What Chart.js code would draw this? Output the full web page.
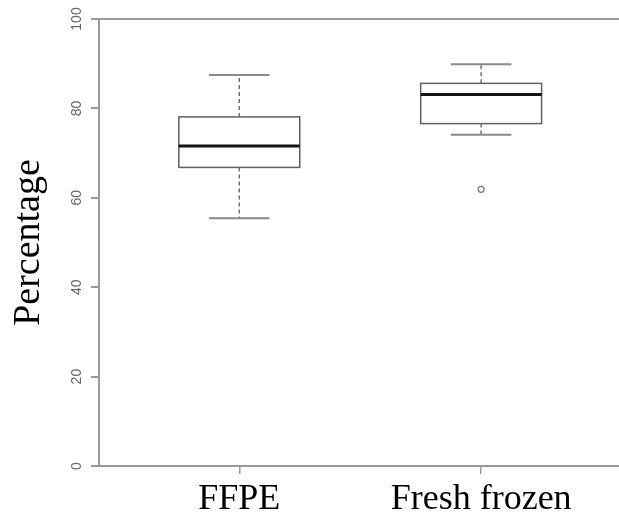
<!DOCTYPE html>
<html>
<head>
<meta charset="utf-8">
<script src="https://cdn.jsdelivr.net/npm/chart.js@4.4.1/dist/chart.umd.min.js"></script>
<style>
    html, body { margin: 0; padding: 0; background: #fff; overflow: hidden; }
    #wrap { width: 619px; height: 516px; }
</style>
</head>
<body>
<div id="wrap"><canvas id="boxChart" width="619" height="516"></canvas></div>
<script>
// Group names and their x positions
const categories = ['FFPE', 'Fresh frozen'];
const positions = [1, 2];

// Five-number summaries per group
const whiskerLow = [55.4, 74.1];
const q1 = [66.8, 76.6];
const median = [71.6, 83.1];
const q3 = [78.1, 85.6];
const whiskerHigh = [87.5, 89.9];

// Points beyond the whiskers
const outliers = [[], [61.9]];

// Y axis ticks
const yTicks = [0, 20, 40, 60, 80, 100];

const axisGray = '#9a9a9a';
const boxWidth = 0.5;
const capWidth = 0.25;

// Draws boxes, medians, whiskers and caps using the chart scales
const boxPlotPlugin = {
    id: 'boxPlot',
    afterDatasetsDraw(chart) {
        const ctx = chart.ctx;
        const xs = chart.scales.x;
        const ys = chart.scales.y;

        positions.forEach(function (pos, i) {
            const xc = xs.getPixelForValue(pos);
            const xl = xs.getPixelForValue(pos - boxWidth / 2);
            const xr = xs.getPixelForValue(pos + boxWidth / 2);
            const cl = xs.getPixelForValue(pos - capWidth / 2);
            const cr = xs.getPixelForValue(pos + capWidth / 2);
            const yLo = ys.getPixelForValue(whiskerLow[i]);
            const yQ1 = ys.getPixelForValue(q1[i]);
            const yMed = ys.getPixelForValue(median[i]);
            const yQ3 = ys.getPixelForValue(q3[i]);
            const yHi = ys.getPixelForValue(whiskerHigh[i]);

            ctx.save();

            // dashed whiskers
            ctx.strokeStyle = '#707070';
            ctx.lineWidth = 1.5;
            ctx.setLineDash([4, 3]);
            ctx.beginPath();
            ctx.moveTo(xc, yQ3);
            ctx.lineTo(xc, yHi);
            ctx.moveTo(xc, yQ1);
            ctx.lineTo(xc, yLo);
            ctx.stroke();
            ctx.setLineDash([]);

            // caps
            ctx.strokeStyle = '#8a8a8a';
            ctx.lineWidth = 2;
            ctx.beginPath();
            ctx.moveTo(cl, yHi);
            ctx.lineTo(cr, yHi);
            ctx.moveTo(cl, yLo);
            ctx.lineTo(cr, yLo);
            ctx.stroke();

            // box
            ctx.fillStyle = '#ffffff';
            ctx.fillRect(xl, yQ3, xr - xl, yQ1 - yQ3);
            ctx.strokeStyle = '#606060';
            ctx.lineWidth = 1.5;
            ctx.strokeRect(xl, yQ3, xr - xl, yQ1 - yQ3);

            // median
            ctx.strokeStyle = '#151515';
            ctx.lineWidth = 3;
            ctx.beginPath();
            ctx.moveTo(xl, yMed);
            ctx.lineTo(xr, yMed);
            ctx.stroke();

            ctx.restore();
        });
    }
};

const outlierPoints = [];
outliers.forEach(function (list, i) {
    list.forEach(function (v) {
        outlierPoints.push({ x: positions[i], y: v });
    });
});

new Chart(document.getElementById('boxChart'), {
    type: 'scatter',
    data: {
        datasets: [{
            data: outlierPoints,
            pointStyle: 'circle',
            pointRadius: 3,
            pointBorderWidth: 1.2,
            pointBorderColor: '#777777',
            pointBackgroundColor: '#ffffff'
        }]
    },
    options: {
        responsive: false,
        animation: false,
        layout: {
            autoPadding: false,
            padding: { top: 19, left: 0, right: 0, bottom: 0 }
        },
        plugins: {
            legend: { display: false },
            tooltip: { enabled: false }
        },
        scales: {
            x: {
                type: 'linear',
                min: 0.42,
                max: 2.57,
                afterBuildTicks: function (scale) {
                    scale.ticks = positions.map(function (v) { return { value: v }; });
                },
                afterFit: function (scale) {
                    scale.height = 50;
                    scale.paddingLeft = 0;
                    scale.paddingRight = 0;
                },
                grid: {
                    drawOnChartArea: false,
                    color: axisGray,
                    tickColor: axisGray,
                    tickLength: 8,
                    lineWidth: 1.5
                },
                border: { display: true, color: axisGray, width: 2 },
                ticks: {
                    padding: 4,
                    color: '#000000',
                    font: { family: '"Liberation Serif", "Times New Roman", serif', size: 36 },
                    callback: function (value) {
                        const idx = positions.indexOf(value);
                        return idx >= 0 ? categories[idx] : '';
                    }
                }
            },
            y: {
                min: 0,
                max: 100,
                afterBuildTicks: function (scale) {
                    scale.ticks = yTicks.map(function (v) { return { value: v }; });
                },
                afterFit: function (scale) {
                    scale.width = 99;
                    scale.paddingTop = 0;
                    scale.paddingBottom = 0;
                },
                grid: {
                    color: function (c) {
                        return c.tick && c.tick.value === 100 ? axisGray : 'rgba(0,0,0,0)';
                    },
                    tickColor: axisGray,
                    tickLength: 8,
                    lineWidth: 2
                },
                border: { display: true, color: axisGray, width: 2 },
                ticks: {
                    minRotation: 90,
                    maxRotation: 90,
                    crossAlign: 'center',
                    padding: 2,
                    color: '#666666',
                    font: { family: '"Liberation Sans", Arial, sans-serif', size: 14 }
                },
                title: {
                    display: true,
                    text: 'Percentage',
                    color: '#000000',
                    padding: { top: 6, bottom: 0 },
                    font: { family: '"Liberation Serif", "Times New Roman", serif', size: 38 }
                }
            }
        }
    },
    plugins: [boxPlotPlugin]
});
</script>
</body>
</html>
